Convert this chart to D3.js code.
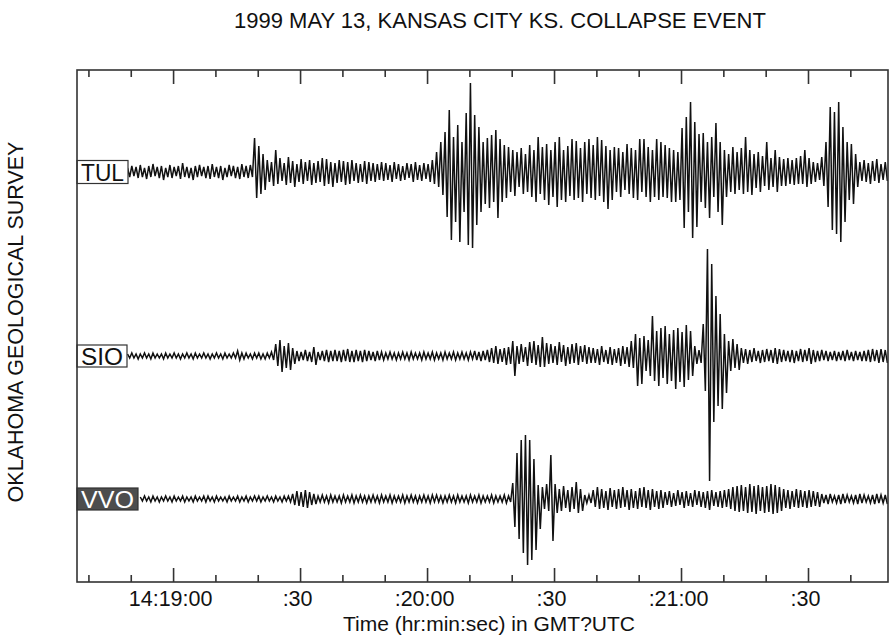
<!DOCTYPE html>
<html>
<head>
<meta charset="utf-8">
<script src="https://cdn.jsdelivr.net/npm/d3@7"></script>
<style>
  body { margin: 0; background: #fff; }
  svg { display: block; font-family: "Liberation Sans", Arial, sans-serif; }
</style>
</head>
<body>
<svg id="chart" width="892" height="635"></svg>
<script>
// Station traces: per-second peak values (upper / lower) of each seismogram,
// time in seconds after 14:19:00 UTC, amplitude in relative counts.
const stations = ["TUL", "SIO", "VVO"];
const traceStart = [-11, -11, -8];

const tulHigh = [
  4,6,5,7,4,6,8,5,6,4, 7,5,6,9,5,4,6,7,5,6, 8,5,6,4,7,6,5,8,6,7,
  34,26,18,
  12,10,22,14,9,15,11,8,13,10, 12,9,11,14,13,10,9,12,11,10, 12,9,8,11,10,9,8,10,
  9,7,10,8,6,9,8,10,7,9,8,12,20,
  30,40,62,35,47,30,59,89,57,45, 30,34,37,42,33,27,25,22,20,24,
  18,27,22,35,25,28,22,30,35,22, 26,33,31,24,30,33,27,35,32,26, 22,25,24,20,28,
  24,22,33,33,25,22,33,30,27,24, 22,20,44,55,70,50,38,39,30,35,
  49,30,22,18,25,20,24,35,22,18, 20,16,30,14,22,15,13,14,12,14,
  16,22,14,10,9,15,30,65,60,70, 45,30,28,18,10,12,9,11,13,8, 10
];
const tulLow = [
  -5,-4,-6,-5,-7,-5,-4,-6,-8,-5, -6,-4,-7,-5,-6,-8,-5,-4,-6,-7, -5,-6,-8,-5,-4,-6,-7,-5,-6,-5,
  -26,-22,-18,
  -10,-14,-12,-9,-13,-11,-15,-10,-12,-9, -13,-11,-10,-14,-12,-15,-11,-10,-13,-12, -9,-11,-10,-12,-9,-10,-8,-9,
  -8,-10,-7,-9,-8,-6,-10,-8,-9,-7,-10,-12,-15,
  -23,-45,-68,-50,-70,-40,-73,-76,-53,-40, -32,-36,-30,-46,-30,-26,-20,-24,-15,-22,
  -20,-25,-30,-22,-28,-33,-25,-35,-28,-30, -24,-28,-26,-30,-22,-26,-28,-24,-30,-37, -28,-20,-25,-18,-22,
  -26,-28,-20,-25,-30,-25,-28,-25,-26,-30, -30,-28,-56,-40,-66,-55,-30,-36,-46,-25,
  -40,-53,-25,-20,-22,-18,-22,-20,-23,-16, -20,-14,-18,-15,-20,-14,-14,-12,-13,-12,
  -12,-15,-12,-10,-8,-14,-35,-58,-62,-70, -50,-28,-32,-15,-9,-10,-12,-9,-11,-8, -9
];

const sioHigh = [
  2,3,2,2,3,2,3,2,2,3, 2,3,2,2,3,2,3,2,3,2, 2,3,2,3,2,3,
  5,3,3,2,3,3,2,3,4,
  12,16,10,13,8,
  5,4,6,4,9,
  4,5,6,5,6,5,6,7,5,6, 5,6,5,4,5,4,
  3,4,3,3,4,3,4,3,3,4, 3,4,3,3,4,3,4,3,4,3, 4,5,4,5,
  6,8,10,7,8,9,
  15,
  10,12,9,14,15,11,19,13,12,10, 14,11,9,12,13,10,11,9,
  8,7,10,6,9,7,8,10,9,
  15,22,18,20,16,
  40,25,28,30,22,26,28,24,31,25,10,6,
  32,107,92,60,42,22,15,17,12,
  8,7,6,8,5,6,7,6,8,7, 6,5,6,5,7,6,8,6,5,6, 5,4,5,4,5,6,4,5,4,5, 6,7,6,7,6
];
const sioLow = [
  -2,-2,-3,-2,-2,-3,-2,-2,-3,-2, -2,-2,-3,-2,-2,-3,-2,-2,-2,-3, -2,-2,-3,-2,-2,-2,
  -4,-3,-2,-3,-2,-3,-3,-2,-4,
  -10,-16,-12,-14,-8,
  -5,-4,-5,-6,-9,
  -4,-5,-6,-5,-5,-6,-5,-6,-6,-5, -6,-5,-4,-5,-4,-4,
  -3,-3,-4,-3,-3,-4,-3,-3,-4,-3, -3,-4,-3,-4,-3,-3,-4,-3,-3,-4, -3,-4,-5,-4,
  -6,-7,-8,-6,-9,-8,
  -20,
  -8,-6,-10,-7,-9,-11,-11,-8,-7,-9, -6,-10,-8,-7,-9,-6,-8,-7,
  -7,-9,-6,-8,-9,-7,-10,-8,-11,
  -12,-30,-28,-15,-20,
  -25,-30,-22,-28,-25,-33,-26,-31,-24,-20,-8,-7,
  -35,-125,-66,-50,-53,-37,-15,-12,-14,
  -7,-8,-6,-5,-7,-6,-5,-7,-8,-6, -5,-6,-7,-5,-6,-5,-8,-6,-5,-4, -5,-4,-5,-4,-5,-4,-5,-4,-5,-5, -6,-5,-7,-6,-7
];

const vvoHigh = [
  2,3,2,3,2,2,3,2,3,2, 3,2,2,3,2,3,3,2,3,2, 2,3,2,3,2,3,2,3,3,2, 3,2,3,2,3,3,
  5,8,7,9,7,5,
  3,4,3,4,3,3,4,3,4,3, 4,3,3,4,3,4,3,4,3,3, 4,3,4,3,3,4,3,4,4,3, 3,4,3,4,3,3,4,3,4,3, 3,4,3,3,4,3,
  16,46,59,64,59,40,14,12,15,44, 15,10,13,9,12,17,10,4,4,
  9,12,10,8,11,9,10,12,9,10,8,11,12,9,10,8,9,
  7,8,6,9,7,8,6,9,8,7,8,9,7,8,9,10,
  12,13,14,12,15,13,14,12,13,15,14,12,
  10,9,8,10,9,8,9,8,7,
  5,4,5,3,4,5,4,3,4,5,4,3,4,5,4,4
];
const vvoLow = [
  -2,-2,-3,-2,-3,-2,-2,-3,-2,-2, -3,-2,-3,-2,-2,-3,-2,-3,-2,-2, -3,-2,-2,-3,-2,-3,-2,-2,-3,-2, -2,-3,-2,-3,-2,-3,
  -6,-7,-8,-9,-6,-5,
  -3,-3,-4,-3,-3,-4,-3,-3,-4,-3, -3,-4,-3,-3,-4,-3,-3,-4,-3,-3, -4,-3,-3,-4,-3,-3,-4,-3,-3,-4, -3,-3,-4,-3,-3,-4,-3,-3,-4,-3, -3,-4,-3,-3,-4,-3,
  -28,-40,-54,-66,-61,-51,-30,-10,-12,-42, -14,-12,-9,-13,-10,-14,-12,-4,-4,
  -8,-10,-9,-11,-8,-10,-9,-8,-11,-9,-10,-8,-9,-11,-8,-10,-9,
  -6,-8,-7,-6,-9,-7,-8,-6,-8,-9,-11,-7,-8,-9,-8,-10,
  -12,-13,-12,-14,-13,-15,-12,-14,-13,-15,-14,-12,
  -9,-10,-8,-9,-8,-9,-8,-7,-8,
  -4,-5,-3,-4,-5,-4,-3,-4,-5,-4,-3,-4,-5,-4,-4,-5
];

// Time axis (seconds after 14:19:00)
const majorTicks  = [0, 30, 60, 90, 120, 150];
const majorLabels = ["14:19:00", ":30", ":20:00", ":30", ":21:00", ":30"];
const minorTicks  = [-20, -10, 10, 20, 40, 50, 70, 80, 100, 110, 130, 140, 160];

const titleText = "1999 MAY 13, KANSAS CITY KS. COLLAPSE EVENT";
const xTitle = "Time (hr:min:sec) in GMT?UTC";
const yTitle = "OKLAHOMA GEOLOGICAL SURVEY";

// ---- layout ----
const W = 892, H = 635;
const plot = { left: 77, right: 888, top: 70, bottom: 582 };
const baselines = [172, 356, 499];
const labelBox = [
  { w: 51, h: 23, text: 43, fill: "#fff", color: "#111" },
  { w: 50, h: 22, text: 42, fill: "#fff", color: "#111" },
  { w: 61, h: 22, text: 53, fill: "#4d4d4d", color: "#fff" }
];

const svg = d3.select("#chart");

const x = d3.scaleLinear().domain([-22.7, 168.9]).range([plot.left, plot.right]);

svg.append("defs").append("clipPath").attr("id", "plotClip")
  .append("rect")
  .attr("x", plot.left).attr("y", plot.top)
  .attr("width", plot.right - plot.left).attr("height", plot.bottom - plot.top);

// Traces
const highs = [tulHigh, sioHigh, vvoHigh];
const lows  = [tulLow, sioLow, vvoLow];
const traceG = svg.append("g").attr("clip-path", "url(#plotClip)");

stations.forEach((name, k) => {
  const y = d3.scaleLinear().domain([-130, 130])
    .range([baselines[k] + 130, baselines[k] - 130]);
  const pts = [];
  highs[k].forEach((hv, i) => {
    const t = traceStart[k] + i;
    pts.push([t + 0.25, hv]);
    pts.push([t + 0.75, lows[k][i]]);
  });
  const line = d3.line().x(d => x(d[0])).y(d => y(d[1]));
  traceG.append("path")
    .attr("d", line(pts))
    .attr("fill", "none")
    .attr("stroke", "#111")
    .attr("stroke-width", 1.5)
    .attr("stroke-linejoin", "miter");
});

// Station labels
stations.forEach((name, k) => {
  const b = labelBox[k];
  const g = svg.append("g");
  g.append("rect")
    .attr("x", plot.left).attr("y", baselines[k] - b.h / 2)
    .attr("width", b.w).attr("height", b.h)
    .attr("fill", b.fill)
    .attr("stroke", "#333").attr("stroke-width", 1.2);
  g.append("text")
    .attr("x", plot.left + (b.w - b.text) / 2)
    .attr("y", baselines[k] + 8.5)
    .attr("font-size", 23)
    .attr("fill", b.color)
    .attr("textLength", b.text)
    .attr("lengthAdjust", "spacingAndGlyphs")
    .text(name);
});

// Frame
svg.append("rect")
  .attr("x", plot.left).attr("y", plot.top)
  .attr("width", plot.right - plot.left).attr("height", plot.bottom - plot.top)
  .attr("fill", "none").attr("stroke", "#333").attr("stroke-width", 1.6);

// Ticks along top and bottom
function styleAxis(g) {
  g.select(".domain").remove();
  g.selectAll(".tick line").attr("stroke", "#333").attr("stroke-width", 1.6);
}
svg.append("g").attr("transform", `translate(0,${plot.bottom})`)
  .call(d3.axisBottom(x).tickValues(minorTicks).tickSize(-7).tickFormat(""))
  .call(styleAxis);
svg.append("g").attr("transform", `translate(0,${plot.top})`)
  .call(d3.axisTop(x).tickValues(minorTicks).tickSize(-7).tickFormat(""))
  .call(styleAxis);
svg.append("g").attr("transform", `translate(0,${plot.top})`)
  .call(d3.axisTop(x).tickValues(majorTicks).tickSize(-14).tickFormat(""))
  .call(styleAxis);
const bottomMajor = svg.append("g").attr("transform", `translate(0,${plot.bottom})`)
  .call(d3.axisBottom(x).tickValues(majorTicks).tickSize(-14).tickPadding(9)
    .tickFormat((d, i) => majorLabels[i]))
  .call(styleAxis);
bottomMajor.selectAll(".tick text")
  .attr("font-family", "Liberation Sans, Arial, sans-serif")
  .attr("font-size", 21.5)
  .attr("fill", "#111")
  .attr("dx", -3);

// Titles
svg.append("text")
  .attr("x", 500).attr("y", 28)
  .attr("text-anchor", "middle")
  .attr("font-size", 22)
  .attr("fill", "#111")
  .text(titleText);

svg.append("text")
  .attr("x", 489).attr("y", 631)
  .attr("text-anchor", "middle")
  .attr("font-size", 21)
  .attr("fill", "#111")
  .text(xTitle);

svg.append("text")
  .attr("transform", "translate(23,322) rotate(-90)")
  .attr("text-anchor", "middle")
  .attr("font-size", 21.5)
  .attr("fill", "#111")
  .text(yTitle);
</script>
</body>
</html>
